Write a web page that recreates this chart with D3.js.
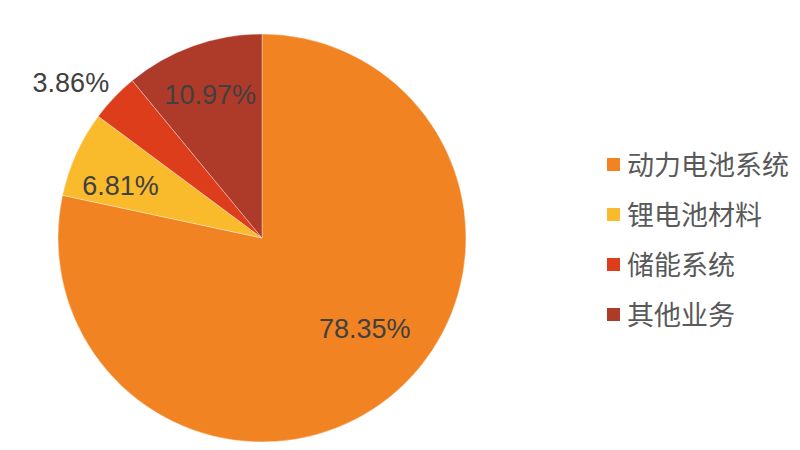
<!DOCTYPE html>
<html><head><meta charset="utf-8">
<script src="https://cdn.jsdelivr.net/npm/d3@7/dist/d3.min.js"></script>
<style>html,body{margin:0;padding:0;background:#fff;}svg{display:block;}</style>
</head><body>
<svg id="chart" width="800" height="450"></svg>
<script>
const categories = ["动力电池系统", "锂电池材料", "储能系统", "其他业务"];
const values = [78.35, 6.81, 3.86, 10.97];
const labels = ["78.35%", "6.81%", "3.86%", "10.97%"];
const colors = ["#F28322", "#F9BA2C", "#DD3D1B", "#AE3A2A"];

const svg = d3.select("#chart");
const cx = 262, cy = 238, R = 204;
const g = svg.append("g").attr("transform", `translate(${cx},${cy})`);

const pie = d3.pie().sort(null).value(d => d)(values);
const arc = d3.arc().innerRadius(0).outerRadius(R);
const color = d3.scaleOrdinal().domain(categories).range(colors);

g.selectAll("path").data(pie).join("path")
  .attr("d", arc)
  .attr("fill", (d, i) => color(categories[i]))
  .attr("stroke", "#ffffff").attr("stroke-width", 0.6).attr("stroke-opacity", 0.6);

// label placement: radius (fraction of R) and angle nudge (radians)
const place = [{r: 0.67, da: -0.17}, {r: 0.74, da: -0.07}, {r: 1.21, da: -0.075}, {r: 0.75, da: 0.0}];
g.selectAll("text.lbl").data(pie).join("text")
  .attr("class", "lbl")
  .attr("transform", (d, i) => {
    const a = (d.startAngle + d.endAngle) / 2 + place[i].da;
    const r = R * place[i].r;
    return `translate(${r * Math.sin(a)},${-r * Math.cos(a)})`;
  })
  .attr("text-anchor", "middle").attr("dy", "0.36em")
  .attr("font-family", "'Liberation Sans', Arial, sans-serif")
  .attr("font-size", 27).attr("fill", "#404040")
  .text((d, i) => labels[i]);

const leg = svg.append("g").attr("transform", "translate(607,165)");
const y = d3.scalePoint().domain(categories).range([0, 150]);
const items = leg.selectAll("g").data(categories).join("g")
  .attr("transform", d => `translate(0,${y(d)})`);
items.append("rect").attr("x", 0).attr("y", -7).attr("width", 13).attr("height", 13)
  .attr("fill", d => color(d));
items.append("text").attr("x", 20).attr("dy", "0.36em")
  .attr("font-family", "'Noto Sans CJK SC', sans-serif")
  .attr("font-size", 27).attr("fill", "#595959")
  .text(d => d);
</script>
</body></html>
